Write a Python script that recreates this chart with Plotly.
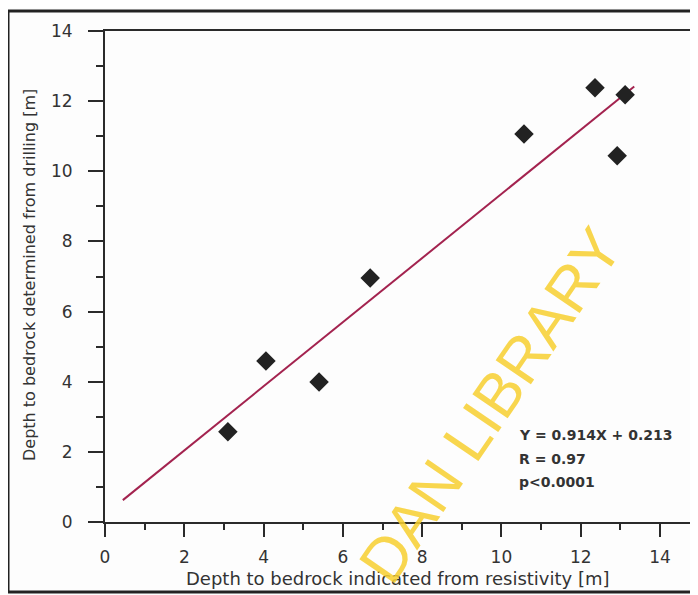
import plotly.graph_objects as go

# Data
resistivity_depth = [3.1, 4.06, 5.40, 6.69, 10.57, 12.36, 12.92, 13.12]
drilling_depth = [2.57, 4.59, 3.99, 6.96, 11.06, 12.38, 10.44, 12.18]
fit_slope = 0.914
fit_intercept = 0.213
fit_x = [0.45, 13.35]
fit_y = [fit_slope * v + fit_intercept for v in fit_x]
tick_values = [0, 2, 4, 6, 8, 10, 12, 14]
stats_lines = ["Y = 0.914X + 0.213", "R = 0.97", "p<0.0001"]

# The page body has an 8px margin, so the figure is laid out 8px in from the shot.
OFF = 8
W, H = 690, 587
L, T = 105 - OFF, 31 - OFF
R = W - (693 - OFF)
B = H - (522 - OFF)
pw, ph = W - L - R, H - T - B

def px(x):
    return (x - OFF - L) / pw

def py(y):
    return (H - B - (y - OFF)) / ph

ink = "#2a2a2a"
text_col = "#333333"
font_family = "DejaVu Sans, Arial, sans-serif"

fig = go.Figure()
fig.add_trace(go.Scatter(
    x=fit_x, y=fit_y, mode="lines",
    line=dict(color="#a3234f", width=2), showlegend=False, hoverinfo="skip"))
fig.add_trace(go.Scatter(
    x=resistivity_depth, y=drilling_depth, mode="markers",
    marker=dict(symbol="diamond", size=15, color="#222222"),
    showlegend=False))

xmax = 14 * pw / (660 - 105)

fig.update_xaxes(
    range=[0, xmax], tickvals=tick_values, showgrid=False, zeroline=False,
    showline=True, linecolor=ink, linewidth=2, mirror=True, automargin=False,
    ticks="outside", ticklen=13, tickwidth=2, tickcolor=ink,
    minor=dict(dtick=1, ticks="outside", ticklen=6, tickwidth=2, tickcolor=ink, showgrid=False),
    tickfont=dict(family=font_family, size=17, color=text_col),
    ticklabelstandoff=6)
fig.update_yaxes(
    range=[0, 14], tickvals=tick_values, showgrid=False, zeroline=False,
    showline=True, linecolor=ink, linewidth=2, automargin=False,
    ticks="outside", ticklen=15, tickwidth=2, tickcolor=ink,
    minor=dict(dtick=1, ticks="outside", ticklen=7, tickwidth=2, tickcolor=ink, showgrid=False),
    tickfont=dict(family=font_family, size=17, color=text_col),
    ticklabelstandoff=12)

annotations = [
    dict(text="Depth to bedrock indicated from resistivity [m]", x=px(398), y=py(578),
         xref="paper", yref="paper", showarrow=False, xanchor="center", yanchor="middle",
         font=dict(family=font_family, size=18, color=text_col)),
    dict(text="Depth to bedrock determined from drilling [m]", x=px(29), y=py(275),
         xref="paper", yref="paper", showarrow=False, textangle=-90,
         xanchor="center", yanchor="middle",
         font=dict(family=font_family, size=16, color=text_col)),
]
for i, s in enumerate(stats_lines):
    annotations.append(dict(
        text="<b>%s</b>" % s, x=px(517), y=py(435 + 23.5 * i), xref="paper", yref="paper",
        xanchor="left", yanchor="middle", showarrow=False,
        font=dict(family=font_family, size=14, color=text_col)))
annotations.append(dict(
    text="DAN LIBRARY", x=px(490), y=py(405), xref="paper", yref="paper",
    xanchor="center", yanchor="middle",
    showarrow=False, textangle=-55.6, opacity=0.85,
    font=dict(family="Liberation Sans, Arial, sans-serif", size=62, color="#f8d030")))

fig.update_layout(
    width=W, height=H, margin=dict(l=L, r=R, t=T, b=B),
    paper_bgcolor="#fdfdfd", plot_bgcolor="#fdfdfd",
    annotations=annotations,
    shapes=[dict(type="rect", xref="paper", yref="paper",
                 x0=px(8), x1=px(693), y0=py(592), y1=py(11),
                 line=dict(color="#222222", width=3))])

fig.write_html("out.html")
